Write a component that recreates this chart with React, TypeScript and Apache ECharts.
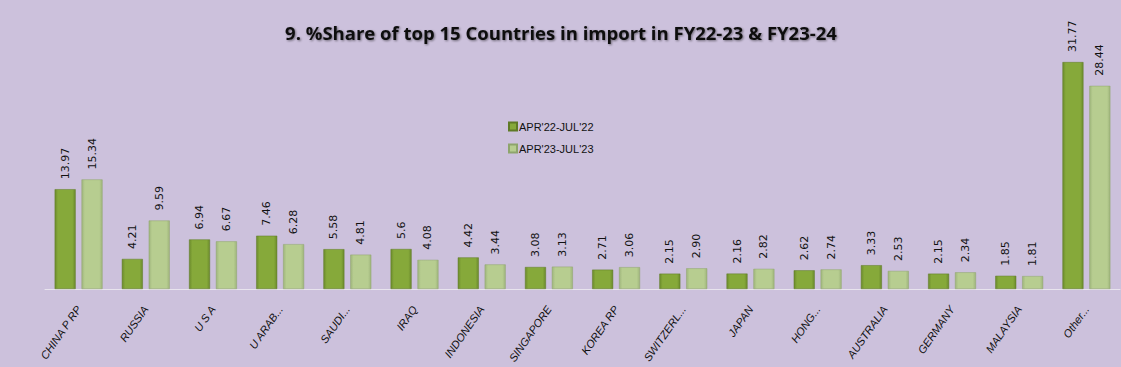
import React, { useEffect, useRef } from "react";
import * as echarts from "echarts";

const categories = ["CHINA P RP", "RUSSIA", "U S A", "U ARAB...", "SAUDI...", "IRAQ", "INDONESIA", "SINGAPORE", "KOREA RP", "SWITZERL...", "JAPAN", "HONG...", "AUSTRALIA", "GERMANY", "MALAYSIA", "Other..."];
const seriesNames = ["APR'22-JUL'22", "APR'23-JUL'23"];
const fy22Labels = ["13.97", "4.21", "6.94", "7.46", "5.58", "5.6", "4.42", "3.08", "2.71", "2.15", "2.16", "2.62", "3.33", "2.15", "1.85", "31.77"];
const fy23Labels = ["15.34", "9.59", "6.67", "6.28", "4.81", "4.08", "3.44", "3.13", "3.06", "2.90", "2.82", "2.74", "2.53", "2.34", "1.81", "28.44"];
const fy22 = fy22Labels.map(Number);
const fy23 = fy23Labels.map(Number);

export default function App() {
  const ref = useRef<HTMLDivElement>(null);
  useEffect(() => {
    const chart = echarts.init(ref.current!, null, { renderer: "svg" });
    const grad = (edge: string, mid: string) =>
      new echarts.graphic.LinearGradient(0, 0, 1, 0, [
        { offset: 0, color: edge },
        { offset: 0.15, color: mid },
        { offset: 0.85, color: mid },
        { offset: 1, color: edge },
      ]);
    const mkLabel = (labels: string[]) => ({
      show: true,
      position: "top",
      rotate: 90,
      align: "left",
      verticalAlign: "middle",
      distance: 10,
      fontSize: 11,
      color: "#111",
      fontFamily: "DejaVu Sans",
      formatter: (p: any) => labels[p.dataIndex],
    });
    chart.setOption({
      animation: false,
      backgroundColor: "#ccc1dc",
      title: {
        text: "9. %Share of top 15 Countries in import in FY22-23 & FY23-24",
        left: 556,
        textAlign: "center",
        top: 18,
        textStyle: {
          fontSize: 18.5,
          fontWeight: "bold",
          color: "#111",
          fontFamily: "Open Sans",
          textShadowColor: "rgba(0,0,0,0.45)",
          textShadowBlur: 2,
          textShadowOffsetX: 1,
          textShadowOffsetY: 1,
        },
      },
      legend: {
        orient: "vertical",
        left: 503,
        top: 116,
        itemWidth: 8,
        itemHeight: 8,
        itemGap: 11,
        textStyle: { fontSize: 11, color: "#111", fontFamily: "Liberation Sans", padding: [0, 0, 0, -3] },
        data: seriesNames.map((n, i) => ({ name: n, icon: "rect", itemStyle: { color: i === 0 ? "#86a93a" : "#b7cd90" } })),
      },
      grid: { left: 45, right: 1, top: 39, bottom: 78 },
      xAxis: {
        type: "category",
        data: categories,
        axisLine: { lineStyle: { color: "#e8e4ee", width: 1 } },
        axisTick: { show: false },
        axisLabel: {
          interval: 0,
          rotate: 55,
          fontSize: 11,
          fontStyle: "italic",
          color: "#111",
          fontFamily: "Liberation Sans",
          margin: 18,
        },
      },
      yAxis: { type: "value", min: 0, max: 35, show: false, splitLine: { show: false } },
      series: [
        {
          name: seriesNames[0],
          type: "bar",
          data: fy22,
          barWidth: 21,
          barGap: "28%",
          itemStyle: { color: grad("#6b8a2c", "#86a93a"), borderColor: "#5f7a26", borderWidth: 0.5 },
          label: mkLabel(fy22Labels),
        },
        {
          name: seriesNames[1],
          type: "bar",
          data: fy23,
          barWidth: 21,
          itemStyle: { color: grad("#9fb57c", "#b7cd90"), borderColor: "#8ea56c", borderWidth: 0.5 },
          label: mkLabel(fy23Labels),
        },
      ],
    });
    return () => chart.dispose();
  }, []);
  return <div ref={ref} style={{ width: 1121, height: 367, position: "fixed", left: 0, top: 0 }} />;
}
